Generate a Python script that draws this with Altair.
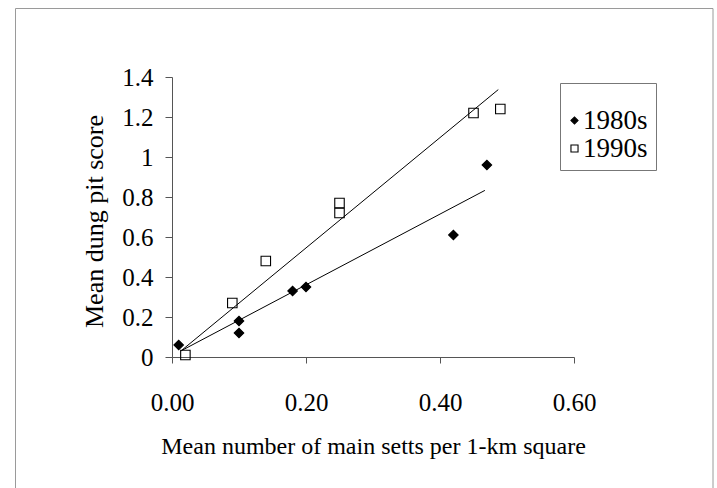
import altair as alt
import pandas as pd

# ---- data ----
series_names = ["1980s", "1990s"]
x_1980s = [0.01, 0.10, 0.10, 0.18, 0.20, 0.42, 0.47]
y_1980s = [0.06, 0.18, 0.12, 0.33, 0.35, 0.61, 0.96]
x_1990s = [0.02, 0.09, 0.14, 0.25, 0.25, 0.45, 0.49]
y_1990s = [0.01, 0.27, 0.48, 0.77, 0.72, 1.22, 1.24]

# trend line end points
trend_x_1980s = [0.013, 0.467]
trend_y_1980s = [0.030, 0.833]
trend_x_1990s = [0.015, 0.487]
trend_y_1990s = [0.035, 1.337]

x_ticks = [0.0, 0.2, 0.4, 0.6]
y_ticks = [0.0, 0.2, 0.4, 0.6, 0.8, 1.0, 1.2, 1.4]

x_title = "Mean number of main setts per 1-km square"
y_title = "Mean dung pit score"

FONT = "Liberation Serif"
NBSP = "\u00a0"

pts = pd.DataFrame({
    "x": x_1980s + x_1990s,
    "y": y_1980s + y_1990s,
    "series": [series_names[0]] * len(x_1980s) + [series_names[1]] * len(x_1990s),
})
trend = pd.DataFrame({
    "x": trend_x_1980s + trend_x_1990s,
    "y": trend_y_1980s + trend_y_1990s,
    "series": [series_names[0]] * 2 + [series_names[1]] * 2,
})

xscale = alt.Scale(domain=[0, 0.6], nice=False, zero=False)
yscale = alt.Scale(domain=[0, 1.4], nice=False)

xaxis = alt.Axis(values=x_ticks, format=".2f", title=x_title, grid=False,
                 labelFontSize=25, titleFontSize=24, tickSize=6,
                 labelPadding=27, titlePadding=19, domainColor="#555",
                 tickColor="#555", labelColor="black", titleColor="black",
                 titleFontWeight="normal", labelFont=FONT, titleFont=FONT,
                 labelFlush=False, labelOverlap=False)
yaxis = alt.Axis(values=y_ticks, format=".1~f", title=y_title, grid=False,
                 labelFontSize=25, titleFontSize=26, tickSize=7,
                 labelPadding=12, titlePadding=14, domainColor="#555",
                 tickColor="#555", labelColor="black", titleColor="black",
                 titleFontWeight="normal", labelFont=FONT, titleFont=FONT,
                 labelFlush=False, labelOverlap=False, titleY=144)

legend = alt.Legend(title=" ", labelFont=FONT, labelFontSize=27, titleFont=FONT,
                    titleFontSize=10, symbolSize=50,
                    labelOffset={"expr": "-5"},
                    symbolOffset={"expr": "-7"},
                    labelExpr="datum.label + '" + NBSP + "'")

frame = alt.Chart(pd.DataFrame({"a": [0]})).mark_rect(
    fill="transparent", stroke="#9a9a9a", strokeWidth=1
).encode(
    x=alt.value(-156.5), x2=alt.value(541), y=alt.value(-68.5), y2=alt.value(420)
)

lines = alt.Chart(trend).mark_line(color="black", strokeWidth=1).encode(
    x=alt.X("x:Q", scale=xscale, axis=xaxis),
    y=alt.Y("y:Q", scale=yscale, axis=yaxis),
    detail="series:N",
)

points = alt.Chart(pts).mark_point(
    strokeWidth=1.1, size=90, opacity=1
).encode(
    x=alt.X("x:Q", scale=xscale, axis=xaxis),
    y=alt.Y("y:Q", scale=yscale, axis=yaxis),
    shape=alt.Shape("series:N", scale=alt.Scale(domain=series_names, range=["diamond", "square"]),
                    legend=legend),
    fill=alt.Fill("series:N", scale=alt.Scale(domain=series_names, range=["black", "transparent"]),
                  legend=legend),
    stroke=alt.Stroke("series:N", scale=alt.Scale(domain=series_names, range=["black", "black"]),
                      legend=legend),
)

chart = alt.layer(frame, lines, points).properties(
    width=402, height=280,
    autosize=alt.AutoSizeParams(type="none"),
    padding={"left": 172, "top": 77, "right": 143, "bottom": 131},
    background="white",
).configure(font=FONT).configure_view(stroke=None).configure_legend(
    orient="none", legendX=388, legendY=6,
    strokeColor="#777", padding=8, fillColor="white",
    titleFontSize=10, titlePadding=6, titleFont=FONT,
    labelFont=FONT, labelFontSize=27, labelColor="black",
    symbolSize=50, symbolStrokeColor="black", symbolStrokeWidth=1.1,
    rowPadding=0,
)

chart.save("out.html", embed_options={"renderer": "svg", "actions": False})
